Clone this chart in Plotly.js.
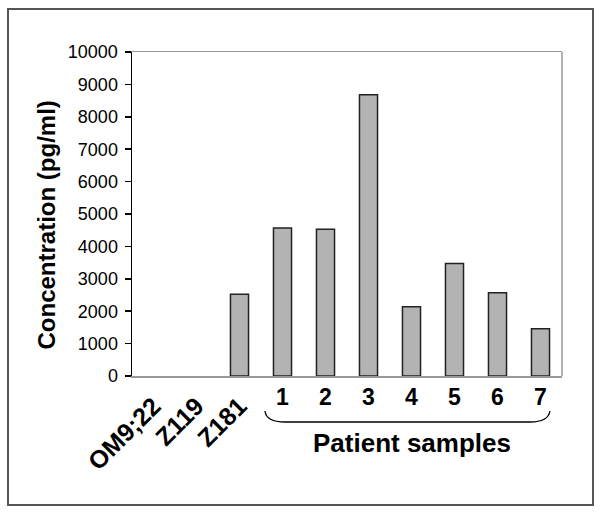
<!DOCTYPE html>
<html>
<head>
<meta charset="utf-8">
<script src="https://cdn.plot.ly/plotly-3.0.1.min.js"></script>
<style>
html,body{margin:0;padding:0;background:#fff;}
#chart{width:601px;height:513px;}
</style>
</head>
<body>
<div id="chart"></div>
<script>
var categories = ['OM9;22', 'Z119', 'Z181', '1', '2', '3', '4', '5', '6', '7'];
var values = [0, 0, 2520, 4570, 4530, 8680, 2140, 3470, 2570, 1460];
var controlCategories = categories.slice(0, 3);
var controlValues = values.slice(0, 3);
var patientCategories = categories.slice(3);
var patientValues = values.slice(3);
var yTickVals = [0, 1000, 2000, 3000, 4000, 5000, 6000, 7000, 8000, 9000, 10000];
var yTickText = ['0', '1000', '2000', '3000', '4000', '5000', '6000', '7000', '8000', '9000', '10000'];
var yTitle = 'Concentration (pg/ml)';
var groupLabel = 'Patient samples';

var FONT = 'Liberation Sans, Arial, Helvetica, sans-serif';
function barMarker(vals) {
  return {color: '#b3b3b3',
          line: {color: '#222222', width: vals.map(function (v) { return v > 0 ? 1.5 : 0; })}};
}

var traces = [
  {type: 'bar', x: controlCategories, y: controlValues, xaxis: 'x', yaxis: 'y',
   width: 0.42, marker: barMarker(controlValues), hoverinfo: 'x+y'},
  {type: 'bar', x: patientCategories, y: patientValues, xaxis: 'x2', yaxis: 'y',
   width: 0.42, marker: barMarker(patientValues), hoverinfo: 'x+y'}
];

var axisBase = {
  type: 'category', categoryorder: 'array', categoryarray: categories,
  range: [-0.5, categories.length - 0.5], showgrid: false, zeroline: false,
  fixedrange: true
};

var layout = {
  width: 601, height: 513,
  margin: {l: 132, r: 39, t: 52, b: 137},
  paper_bgcolor: '#ffffff', plot_bgcolor: '#ffffff',
  showlegend: false,
  font: {family: FONT, color: '#000'},
  xaxis: Object.assign({}, axisBase, {
    tickmode: 'array', tickvals: controlCategories, ticktext: controlCategories,
    tickangle: -45, ticks: '', ticklabelstandoff: 4,
    tickfont: {family: FONT, size: 25, weight: 'bold', color: '#000'},
    showline: true, linecolor: '#999999', linewidth: 1.5, mirror: true
  }),
  xaxis2: Object.assign({}, axisBase, {
    overlaying: 'x', side: 'bottom', anchor: 'y',
    tickmode: 'array', tickvals: patientCategories, ticktext: patientCategories,
    tickangle: 0, ticks: '', ticklabelstandoff: 5,
    tickfont: {family: FONT, size: 23, weight: 'bold', color: '#000'},
    showline: false
  }),
  yaxis: {
    range: [0, 10000], tickmode: 'array', tickvals: yTickVals, ticktext: yTickText,
    ticks: 'outside', ticklen: 6, tickwidth: 1.5, tickcolor: '#000',
    ticklabelstandoff: 3,
    tickfont: {family: FONT, size: 18, color: '#000'},
    showline: true, linecolor: '#000', linewidth: 1.5,
    showgrid: false, zeroline: false, fixedrange: true
  },
  shapes: [
    {type: 'line', xref: 'paper', yref: 'paper', x0: 1, x1: 1, y0: 0, y1: 1,
     line: {color: '#999999', width: 1.5}},
    {type: 'rect', xref: 'paper', yref: 'paper',
     x0: (8 - 132) / 430, x1: (593 - 132) / 430, y0: (376 - 505) / 324, y1: (376 - 9) / 324,
     line: {color: '#555555', width: 2}, fillcolor: 'rgba(0,0,0,0)', layer: 'below'},
    {type: 'path', xref: 'paper', yref: 'paper',
     path: 'M 0.3093,-0.108 Q 0.312,-0.142 0.3558,-0.142 L 0.9256,-0.142 Q 0.968,-0.142 0.972,-0.108',
     line: {color: '#000', width: 1.3}}
  ],
  annotations: [
    {xref: 'paper', yref: 'paper', x: (46 - 132) / 430, y: (376 - 225.5) / 324, text: yTitle,
     textangle: -90, showarrow: false, xanchor: 'center', yanchor: 'middle',
     font: {family: FONT, size: 24, weight: 'bold', color: '#000'}},
    {xref: 'paper', yref: 'paper', x: 0.651, y: -0.207, text: groupLabel, showarrow: false,
     xanchor: 'center', yanchor: 'middle',
     font: {family: FONT, size: 26, weight: 'bold', color: '#000'}}
  ]
};

Plotly.newPlot('chart', traces, layout, {displayModeBar: false, staticPlot: true});
</script>
</body>
</html>
